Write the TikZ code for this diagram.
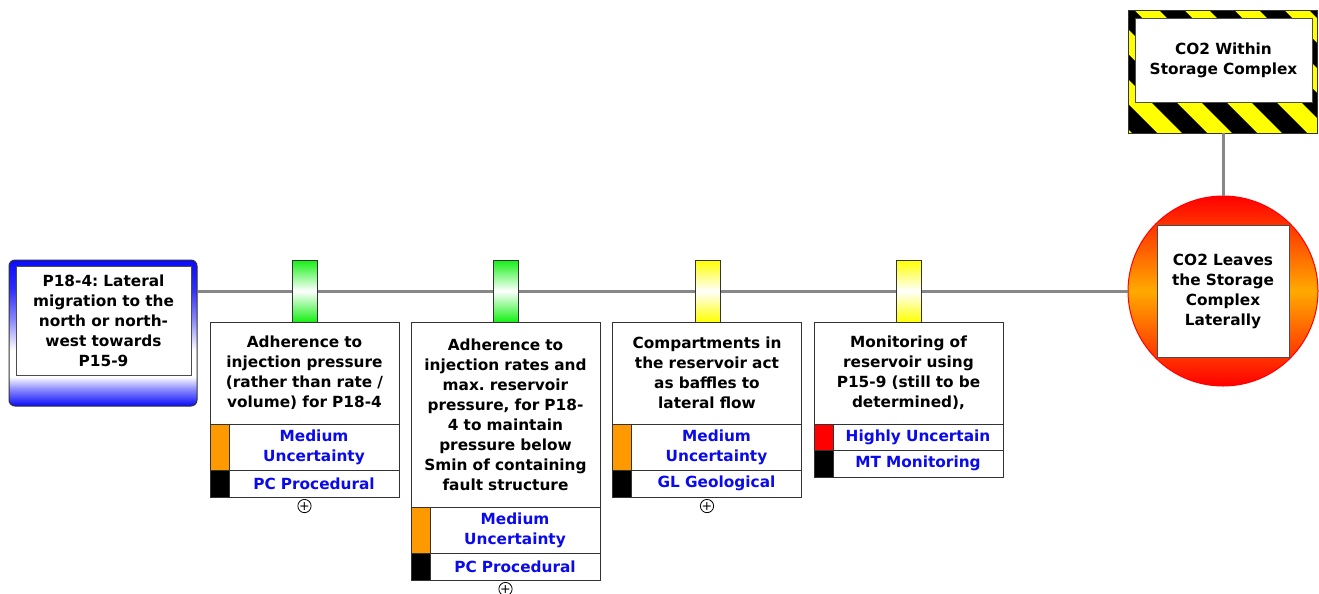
\documentclass[tikz,border=0pt]{standalone}
\usepackage{fontspec}
\setmainfont{DejaVu Sans}
\usetikzlibrary{positioning}

\definecolor{linegray}{RGB}{135,135,135}
\definecolor{tblue}{RGB}{10,10,250}
\definecolor{txtblue}{RGB}{10,10,235}
\definecolor{uorange}{RGB}{255,153,0}
\definecolor{ured}{RGB}{255,0,0}
\definecolor{pgreen}{RGB}{20,240,20}
\definecolor{pyellow}{RGB}{255,255,0}
\definecolor{torange}{RGB}{255,170,0}
\pgfdeclareverticalshading{threatshade}{100bp}{color(0bp)=(tblue); color(25bp)=(tblue); color(31bp)=(tblue!45!white); color(35bp)=(white); color(44bp)=(white); color(55bp)=(tblue!50!white); color(65bp)=(tblue!85!white); color(75bp)=(tblue); color(100bp)=(tblue)}

\begin{document}
\frenchspacing
\begin{tikzpicture}[
    x=0.75pt, y=-0.75pt,
    font=\bfseries\fontsize{11.5}{15}\selectfont,
    conn/.style={draw=linegray, line width=2.25pt},
    threat/.style={draw=black!80, line width=0.75pt, rounded corners=4.5pt, shading=threatshade, minimum width=141pt, minimum height=109.5pt},
    inbox/.style={draw=black!70, line width=0.75pt, fill=white, align=center, inner sep=0pt},
    pin/.style={draw=black!80, line width=0.75pt, minimum width=18.75pt, minimum height=46.5pt, inner sep=0pt},
    greenpin/.style={pin, top color=pgreen, bottom color=pgreen, middle color=white},
    yellowpin/.style={pin, top color=pyellow, bottom color=pyellow, middle color=white},
    bartext/.style={draw=black!80, line width=0.75pt, fill=white, minimum width=141.75pt, text width=139pt, align=center, inner sep=0pt, outer sep=0pt, anchor=north},
    effect/.style={draw=black!80, line width=0.75pt, fill=white, minimum width=127.5pt, text width=126pt, align=center, inner sep=0pt, outer sep=0pt, text=txtblue, anchor=north east},
    chip/.style={draw=black!80, line width=0.75pt, minimum width=14.25pt, inner sep=0pt, outer sep=0pt, anchor=north west},
    expand/.style={circle, draw, line width=0.6pt, minimum size=9.5pt, inner sep=0pt, anchor=north, yshift=-1.5pt, font=\fontsize{9.5}{9.5}\selectfont}
]
    \useasboundingbox (0,0) rectangle (1319,593);

    % threat
    \node[threat] (threat) at (103,333) {};
    \node[inbox, minimum width=131.25pt, minimum height=81.75pt, text width=129pt] (threattxt) at (103.5,320.5) {P18-4: Lateral\\migration to the\\north or north-\\west towards\\P15-9};

    % top event
    \node[circle, draw=ured, line width=0.75pt, top color=ured, bottom color=ured, middle color=torange, minimum size=142.5pt, inner sep=0pt] (top) at (1223,291) {};
    \node[inbox, minimum size=99pt, text width=97pt] (toptxt) at (top) {CO2 Leaves\\the Storage\\Complex\\Laterally};

    % hazard
    \node[fill=pyellow, minimum width=141.75pt, minimum height=91.5pt, inner sep=0pt] (hazard) at (1223,72) {};
    \begin{scope}
        \clip (hazard.south west) rectangle (hazard.north east);
        \foreach \s in {960,1010,...,1320}
            \fill[black] (\s,11) -- (\s+25,11) -- (\s+147,133) -- (\s+122,133) -- cycle;
    \end{scope}
    \draw[black!80, line width=0.75pt] (hazard.south west) rectangle (hazard.north east);
    \node[inbox, minimum width=132.75pt, minimum height=63pt, text width=131pt] (hazardtxt) at (1223.5,60) {CO2 Within\\Storage Complex};

    \draw[conn] (threat.east |- top.west) -- (top.west);
    \draw[conn] (hazard) -- (top);

    % barrier 1
    \node[greenpin] (pin1) at (304.5,291) {};
    \node[bartext, minimum height=76.5pt] (bar1) at (304.5,322) {Adherence to\\injection pressure\\(rather than rate /\\volume) for P18-4};
    \node[effect, minimum height=34.5pt] (bar1u) at (bar1.south east) {Medium\\Uncertainty};
    \node[chip, fill=uorange, minimum height=34.5pt] (bar1uc) at (bar1.south west) {};
    \node[effect, minimum height=20.25pt] (bar1t) at (bar1u.south east) {PC Procedural};
    \node[chip, fill=black, minimum height=20.25pt] (bar1tc) at (bar1uc.south west) {};
    \node[expand] (bar1x) at (bar1.south |- bar1t.south) {+};

    % barrier 2
    \node[greenpin] (pin2) at (505.5,291) {};
    \node[bartext, minimum height=138.75pt] (bar2) at (505.5,322) {Adherence to\\injection rates and\\max. reservoir\\pressure, for P18-\\4 to maintain\\pressure below\\Smin of containing\\fault structure};
    \node[effect, minimum height=34.5pt] (bar2u) at (bar2.south east) {Medium\\Uncertainty};
    \node[chip, fill=uorange, minimum height=34.5pt] (bar2uc) at (bar2.south west) {};
    \node[effect, minimum height=20.25pt] (bar2t) at (bar2u.south east) {PC Procedural};
    \node[chip, fill=black, minimum height=20.25pt] (bar2tc) at (bar2uc.south west) {};
    \node[expand] (bar2x) at (bar2.south |- bar2t.south) {+};

    % barrier 3
    \node[yellowpin] (pin3) at (707.5,291) {};
    \node[bartext, minimum height=76.5pt] (bar3) at (707,322) {Compartments in\\the reservoir act\\as baffles to\\lateral flow};
    \node[effect, minimum height=34.5pt] (bar3u) at (bar3.south east) {Medium\\Uncertainty};
    \node[chip, fill=uorange, minimum height=34.5pt] (bar3uc) at (bar3.south west) {};
    \node[effect, minimum height=20.25pt] (bar3t) at (bar3u.south east) {GL Geological};
    \node[chip, fill=black, minimum height=20.25pt] (bar3tc) at (bar3uc.south west) {};
    \node[expand] (bar3x) at (bar3.south |- bar3t.south) {+};

    % barrier 4
    \node[yellowpin] (pin4) at (908.5,291) {};
    \node[bartext, minimum height=76.5pt] (bar4) at (908.5,322) {Monitoring of\\reservoir using\\P15-9 (still to be\\determined),};
    \node[effect, minimum height=19.5pt] (bar4u) at (bar4.south east) {Highly Uncertain};
    \node[chip, fill=ured, minimum height=19.5pt] (bar4uc) at (bar4.south west) {};
    \node[effect, minimum height=20.25pt] (bar4t) at (bar4u.south east) {MT Monitoring};
    \node[chip, fill=black, minimum height=20.25pt] (bar4tc) at (bar4uc.south west) {};
\end{tikzpicture}
\end{document}
